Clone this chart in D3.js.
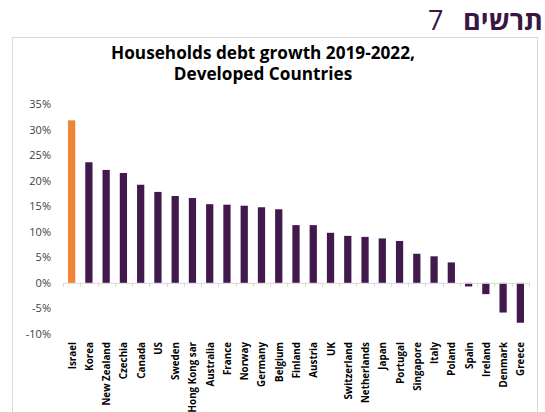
<!DOCTYPE html>
<html><head><meta charset="utf-8">
<script src="https://cdn.jsdelivr.net/npm/d3@7/dist/d3.min.js"></script>
<style>
html,body{margin:0;padding:0;background:#fff;}
svg{display:block;}
</style></head>
<body>
<svg id="chart" width="545" height="412"></svg>
<script>
const categories = ["Israel","Korea","New Zealand","Czechia","Canada","US","Sweden","Hong Kong sar","Australia","France","Norway","Germany","Belgium","Finland","Austria","UK","Switzerland","Netherlands","Japan","Portugal","Singapore","Italy","Poland","Spain","Ireland","Denmark","Greece"];
const values = [31.8,23.6,22.1,21.5,19.2,17.8,17.0,16.6,15.4,15.3,15.1,14.8,14.4,11.3,11.3,9.8,9.2,9.0,8.7,8.2,5.7,5.2,4.0,-0.7,-2.2,-5.8,-7.8];
const yTicks = [-10,-5,0,5,10,15,20,25,30,35];
const highlight = "Israel";

const svg = d3.select("#chart");
const font = "'Open Sans', 'Liberation Sans', sans-serif";

// frame
svg.append("rect").attr("x",12.5).attr("y",37.5).attr("width",525).attr("height",390)
  .attr("fill","#fff").attr("stroke","#d9d9d9").attr("stroke-width",1);

// heading
svg.append("text").attr("x",543).attr("y",30).attr("text-anchor","end")
  .attr("font-family",font).attr("font-size",27).attr("font-weight","bold").attr("fill","#3a1644")
  .text("תרשים");
svg.append("text").attr("x",428).attr("y",30).attr("text-anchor","start")
  .attr("font-family",font).attr("font-size",27).attr("font-weight","normal").attr("fill","#3a1644")
  .text("7");

// title
svg.append("text").attr("x",263).attr("y",59).attr("text-anchor","middle")
  .attr("font-family",font).attr("font-weight","bold").attr("font-size",17.2).attr("fill","#000")
  .text("Households debt growth 2019-2022,");
svg.append("text").attr("x",263).attr("y",80).attr("text-anchor","middle")
  .attr("font-family",font).attr("font-weight","bold").attr("font-size",17.2).attr("fill","#000")
  .text("Developed Countries");

const x = d3.scaleBand().domain(categories).range([63,529]).paddingInner(0.58).paddingOuter(0.29);
const y = d3.scaleLinear().domain([-10,35]).range([334,104]);

// y axis labels
const yAxis = d3.axisLeft(y).tickValues(yTicks).tickFormat(d=>d+"%").tickSize(0).tickPadding(0);
const gy = svg.append("g").attr("transform","translate(51,0)").call(yAxis);
gy.select(".domain").remove();
gy.selectAll("text").attr("font-family",font).attr("font-size",11).attr("fill","#404040");

// bars
svg.append("g").selectAll("rect").data(categories).join("rect")
  .attr("x",d=>x(d))
  .attr("width",x.bandwidth())
  .attr("y",(d,i)=>y(Math.max(0,values[i])))
  .attr("height",(d,i)=>Math.abs(y(values[i])-y(0)))
  .attr("fill",d=>d===highlight?"#f0853a":"#41194b");

// zero axis with ticks at band boundaries
const step = x.step();
const bounds = d3.range(categories.length+1).map(i=>x(categories[0]) - (step-x.bandwidth())/2 + i*step);
const g0 = svg.append("g");
g0.append("line").attr("x1",bounds[0]).attr("x2",bounds[bounds.length-1])
  .attr("y1",y(0)+0.5).attr("y2",y(0)+0.5).attr("stroke","#d9d9d9").attr("stroke-width",1);
g0.selectAll("line.t").data(bounds).join("line").attr("class","t")
  .attr("x1",d=>Math.round(d)+0.5).attr("x2",d=>Math.round(d)+0.5)
  .attr("y1",y(0)).attr("y2",y(0)+4).attr("stroke","#d9d9d9");

// category labels
svg.append("g").selectAll("text").data(categories).join("text")
  .attr("transform",d=>`translate(${x(d)+x.bandwidth()/2+4},342) rotate(-90)`)
  .attr("text-anchor","end")
  .attr("font-family",font).attr("font-weight","bold").attr("font-size",9.8).attr("fill","#000")
  .text(d=>d);
</script>
</body></html>
